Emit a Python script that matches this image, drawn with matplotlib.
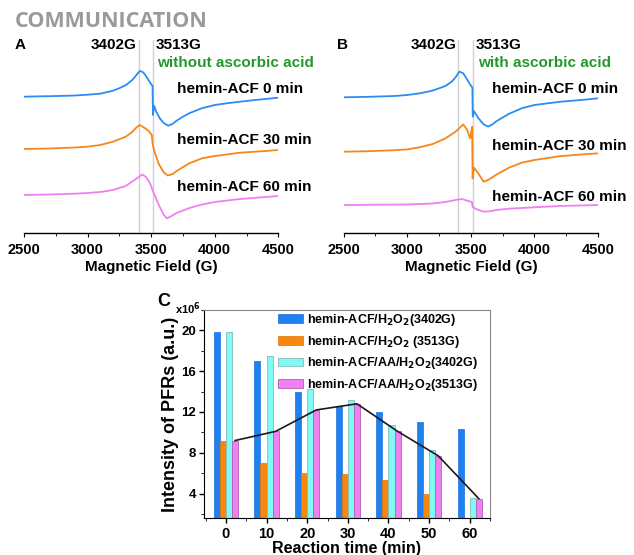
import matplotlib
matplotlib.use('Agg')
import matplotlib.pyplot as plt
import numpy as np
from matplotlib.ticker import MultipleLocator

plt.rcParams['font.family'] = ['Liberation Sans', 'DejaVu Sans']
plt.rcParams['font.weight'] = 'bold'
plt.rcParams['mathtext.default'] = 'bf'

# ---- EPR spectra (field in G, signal relative to each baseline) ----
blue_a_field = [2500, 2600, 2700, 2800, 2900, 3000, 3100, 3200, 3250, 3300, 3350, 3380,
                3410, 3430, 3450, 3480, 3500, 3511, 3514, 3522, 3540, 3570, 3600, 3635,
                3670, 3700, 3750, 3800, 3900, 4000, 4100, 4200, 4300, 4400, 4500]
blue_a_val = [0, 0.3, 0.5, 0.8, 1.2, 2, 3, 6, 8.5, 11.5, 16.5, 21,
              25.7, 25, 22.5, 16.5, 12.5, 10.7, -18.3, -9, -15, -22, -26.5, -29,
              -27, -24, -20, -16.5, -11.5, -8.3, -6.5, -5, -3.5, -2.3, -1]

orange_a_field = [2500, 2700, 2900, 3000, 3100, 3200, 3300, 3350, 3380, 3410, 3450, 3480,
                  3505, 3513, 3525, 3560, 3600, 3630, 3670, 3700, 3800, 3900, 4000,
                  4200, 4400, 4500]
orange_a_val = [0, 0.5, 1.5, 2.3, 4, 7.3, 12.3, 17, 21, 24, 21, 18,
                14, 4, -2, -15, -23.5, -26.5, -25, -22, -14.3, -9.3, -7,
                -3.7, -2, -1]

pink_a_field = [2500, 2700, 2900, 3000, 3100, 3200, 3300, 3380, 3430, 3460, 3490, 3520,
                3560, 3600, 3625, 3660, 3700, 3800, 3900, 4000, 4200, 4400, 4500]
pink_a_val = [0, 0.5, 1.3, 2, 3, 5, 9, 16, 20.5, 18, 12, 2,
              -10, -20, -23.3, -21, -18, -13, -9.5, -7, -4, -2, -1]

blue_b_field = [2500, 2700, 2900, 3000, 3100, 3200, 3300, 3350, 3380, 3410, 3440, 3470,
                3505, 3512, 3515, 3525, 3560, 3600, 3636, 3670, 3700, 3800, 3900, 4000,
                4200, 4400, 4500]
blue_b_val = [0, 0.5, 1.3, 2.3, 4, 6.7, 11.3, 15.7, 20, 25.7, 24, 18,
              10.7, 10, -19.3, -14, -21, -27, -29.3, -27, -24, -16.5, -11, -7.7,
              -4.5, -2.3, -1]

orange_b_field = [2500, 2700, 2900, 3000, 3100, 3200, 3300, 3380, 3440, 3470, 3495, 3510,
                  3514, 3525, 3560, 3600, 3640, 3700, 3800, 3900, 4000, 4200, 4400, 4500]
orange_b_val = [0, 0.5, 1.5, 2.3, 4.5, 7.7, 13.3, 20, 27.3, 22, 13.3, 25,
                -26.7, -16, -22, -30, -28, -23, -16, -11, -8.3, -4.5, -2.5, -1.7]

pink_b_field = [2500, 2800, 3000, 3200, 3300, 3400, 3430, 3480, 3508, 3514, 3540, 3600,
                3650, 3700, 3800, 4000, 4200, 4500]
pink_b_val = [0, 0.3, 0.5, 1.5, 3, 5.5, 6, 4, 3, -2, -4, -6.7,
              -6.3, -5, -3.7, -2.3, -1, 0]

# baselines of the stacked traces
offsets_a = [136.6, 84.3, 38.3]
offsets_b = [136.0, 81.6, 28.3]

trace_colors = ['#2b8cf2', '#f5871a', '#f07ff0']

# ---- bar chart data (x10^6) ----
times = np.array([0, 10, 20, 30, 40, 50, 60])
h2o2_3402 = [19.8, 17.0, 14.0, 12.6, 12.0, 11.0, 10.3]
h2o2_3513 = [9.2, 7.0, 6.0, 5.9, 5.3, 4.0, np.nan]
aa_3402 = [19.8, 17.5, 14.3, 13.2, 10.7, 8.3, 3.6]
aa_3513 = [9.2, 10.1, 12.2, 12.8, 10.1, 7.7, 3.5]
bar_labels = ['hemin-ACF/H$_2$O$_2$(3402G)', 'hemin-ACF/H$_2$O$_2$ (3513G)',
              'hemin-ACF/AA/H$_2$O$_2$(3402G)', 'hemin-ACF/AA/H$_2$O$_2$(3513G)']

fig = plt.figure(figsize=(6.34, 5.55), dpi=100)
W, H = 634.0, 555.0


def epr_panel(left_px, curves, offsets, texts):
    ax = fig.add_axes([left_px / W, 1 - 233.3 / H, 254.3 / W, 193.3 / H])
    for (f, v), off, c in zip(curves, offsets, trace_colors):
        ax.plot(f, np.array(v) + off, color=c, lw=1.3)
    ax.axvline(3402, color='#d0d0d0', lw=1.0, zorder=0)
    ax.axvline(3513, color='#d0d0d0', lw=1.0, zorder=0)
    ax.set_xlim(2500, 4500)
    ax.set_ylim(0, 193.3)
    for s in ['top', 'right', 'left']:
        ax.spines[s].set_visible(False)
    ax.spines['bottom'].set_linewidth(1.0)
    ax.set_yticks([])
    ax.xaxis.set_major_locator(MultipleLocator(500))
    ax.xaxis.set_minor_locator(MultipleLocator(250))
    ax.tick_params(axis='x', which='major', direction='out', length=3, labelsize=10.5, pad=4)
    ax.tick_params(axis='x', which='minor', direction='out', length=2)
    ax.set_xlabel('Magnetic Field (G)', fontsize=11, fontweight='bold', labelpad=2.5)
    for x, y, s, kw in texts:
        ax.text(x, y, s, fontsize=11, fontweight='bold', va='center', **kw)
    return ax


ax_a = epr_panel(24, [(blue_a_field, blue_a_val), (orange_a_field, orange_a_val),
                      (pink_a_field, pink_a_val)], offsets_a,
                 [(3388, 188.3, '3402G', dict(ha='right')),
                  (3535, 188.3, '3513G', dict(ha='left')),
                  (3546, 170.3, 'without ascorbic acid', dict(ha='left', color='#22992a')),
                  (3703, 144.3, 'hemin-ACF 0 min', dict(ha='left')),
                  (3703, 93.3, 'hemin-ACF 30 min', dict(ha='left')),
                  (3703, 46.3, 'hemin-ACF 60 min', dict(ha='left'))])

ax_b = epr_panel(343.7, [(blue_b_field, blue_b_val), (orange_b_field, orange_b_val),
                         (pink_b_field, pink_b_val)], offsets_b,
                 [(3390, 188.3, '3402G', dict(ha='right')),
                  (3535, 188.3, '3513G', dict(ha='left')),
                  (3555, 170.3, 'with ascorbic acid', dict(ha='left', color='#22992a')),
                  (3665, 144.3, 'hemin-ACF 0 min', dict(ha='left')),
                  (3665, 87.3, 'hemin-ACF 30 min', dict(ha='left')),
                  (3665, 36.3, 'hemin-ACF 60 min', dict(ha='left'))])

fig.text(15 / W, 1 - 21.5 / H, 'COMMUNICATION', fontsize=15.5, fontweight='bold',
         color='#9a9a9a', family=['Open Sans', 'DejaVu Sans'], va='center', ha='left')
fig.text(15 / W, 1 - 45 / H, 'A', fontsize=11, fontweight='bold', va='center')
fig.text(337 / W, 1 - 45 / H, 'B', fontsize=11, fontweight='bold', va='center')

# ---- panel C ----
ax_c = fig.add_axes([204 / W, 1 - 518 / H, 286 / W, 208 / H])
w = 1.5
ax_c.bar(times - 2.25, h2o2_3402, w, color='#1f80f0', edgecolor='#1a70dd', lw=0.5, label=bar_labels[0])
ax_c.bar(times - 0.75, h2o2_3513, w, color='#f7870f', edgecolor='#e07500', lw=0.5, label=bar_labels[1])
ax_c.bar(times + 0.75, aa_3402, w, color='#80faf5', edgecolor='#8ab8b8', lw=0.6, label=bar_labels[2])
ax_c.bar(times + 2.25, aa_3513, w, color='#f07ff0', edgecolor='#b060b8', lw=0.6, label=bar_labels[3])
ax_c.plot(times + 2.25, aa_3513, color='#1a1a1a', lw=1.2)

ax_c.set_xlim(-5.4, 65)
ax_c.set_ylim(1.6, 22)
ax_c.xaxis.set_major_locator(MultipleLocator(10))
ax_c.xaxis.set_minor_locator(MultipleLocator(5))
ax_c.yaxis.set_major_locator(MultipleLocator(4))
ax_c.yaxis.set_minor_locator(MultipleLocator(2))
ax_c.set_yticks([4, 8, 12, 16, 20])
ax_c.tick_params(axis='both', which='major', direction='out', length=3.5, width=1)
ax_c.tick_params(axis='both', which='minor', direction='out', length=2)
ax_c.tick_params(axis='x', labelsize=10.5, pad=3)
ax_c.tick_params(axis='y', labelsize=9.5, pad=2)
for s in ['top', 'right']:
    ax_c.spines[s].set_color('#888888')
ax_c.set_xlabel('Reaction time (min)', fontsize=11.5, fontweight='bold')
ax_c.xaxis.set_label_coords(0.5, (518 - 540.5) / 208)
ax_c.set_ylabel('Intensity of PFRs (a.u.)', fontsize=13, fontweight='bold', labelpad=2)

leg = ax_c.legend(loc='upper left', bbox_to_anchor=((278 - 204) / 286, 0.99), frameon=False,
                  fontsize=9, handlelength=2.0, handleheight=0.7, handletextpad=0.3,
                  labelspacing=0.45, borderpad=0, borderaxespad=0)
for t in leg.get_texts():
    t.set_fontweight('bold')

fig.text(157 / W, 1 - 302 / H, 'C', fontsize=13, fontweight='bold', va='center')
fig.text(175 / W, 1 - 309 / H, 'x10$^6$', fontsize=8, fontweight='bold', va='center')

fig.savefig('out.png', dpi=100)
